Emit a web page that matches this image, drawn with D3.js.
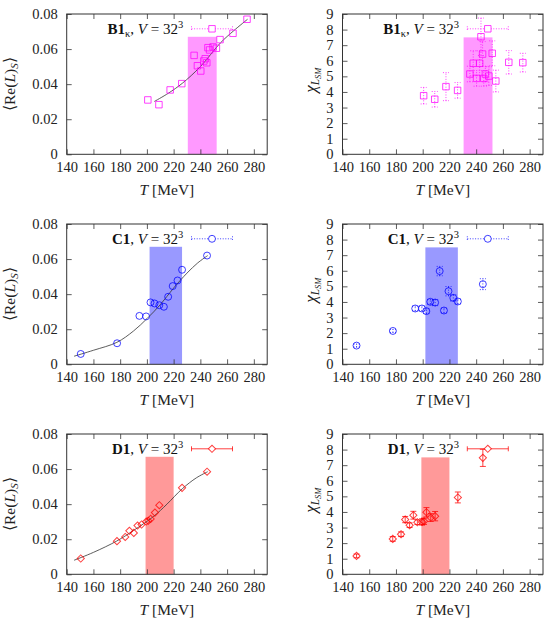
<!DOCTYPE html>
<html>
<head>
<meta charset="utf-8">
<script src="https://d3js.org/d3.v7.min.js"></script>
<style>
  body { margin: 0; background: #fff; }
</style>
</head>
<body>
<div id="chart"></div>
<script>
// ---- data ----
var xTicks = [140, 160, 180, 200, 220, 240, 260, 280];
var reTicks = [0, 0.02, 0.04, 0.06, 0.08];
var chiTicks = [0, 1, 2, 3, 4, 5, 6, 7, 8, 9];

// B1 kappa
var b1T   = [200.7, 209, 217.4, 226.1, 235.3, 237.8, 240.3, 242.6, 243.6, 244.8, 245.7, 246.9, 249.5, 252, 254.7, 264.4, 274.9];
var b1Re  = [0.031, 0.0283, 0.0367, 0.0403, 0.0564, 0.0505, 0.0475, 0.0532, 0.0545, 0.0522, 0.0608, 0.0595, 0.0612, 0.0605, 0.0654, 0.069, 0.077];
var b1Chi = [3.76, 3.53, 4.34, 4.1, 5.15, 5.84, 4.87, 5.84, 7.54, 6.43, 4.87, 5.15, 5.02, 6.48, 4.7, 5.9, 5.88];
var b1ChiErr = [0.53, 0.5, 0.9, 0.5, 0.5, 0.8, 0.5, 0.8, 1.2, 0.8, 0.5, 0.5, 0.6, 0.8, 0.7, 0.75, 0.6];
var b1FitT  = [205.5, 216, 226.5, 240, 255, 265, 275.3];
var b1FitRe = [0.0301, 0.0348, 0.0405, 0.050, 0.0635, 0.0705, 0.077];
var b1Band = [230.6, 252.2];

// C1
var c1T   = [150.5, 177.7, 194.4, 199.4, 202.7, 205.7, 209.3, 212.7, 215.9, 219.3, 222.9, 226.3, 245];
var c1Re  = [0.0059, 0.012, 0.0276, 0.0273, 0.0353, 0.0347, 0.0337, 0.0328, 0.0385, 0.0446, 0.0478, 0.0539, 0.062];
var c1Chi = [1.2, 2.14, 3.58, 3.58, 3.41, 4.01, 3.96, 5.98, 3.45, 4.69, 4.26, 4.03, 5.14];
var c1ChiErr = [0.1, 0.1, 0.15, 0.15, 0.15, 0.15, 0.2, 0.3, 0.15, 0.3, 0.2, 0.15, 0.35];
var c1FitT  = [145.5, 160, 177.5, 190, 200, 210, 220, 230, 238, 245.5];
var c1FitRe = [0.0046, 0.008, 0.0125, 0.019, 0.026, 0.034, 0.0435, 0.052, 0.0578, 0.062];
var c1Band = [202, 226.3];

// D1
var d1T   = [150.5, 177.6, 183.8, 186.9, 190.2, 193, 196, 199.5, 201, 202.8, 206, 209.3, 226.3, 245];
var d1Re  = [0.009, 0.0189, 0.0213, 0.0248, 0.0236, 0.0278, 0.0284, 0.0301, 0.0305, 0.0316, 0.0352, 0.0394, 0.0493, 0.0585];
var d1Chi = [1.18, 2.27, 2.57, 3.51, 3.15, 3.79, 3.34, 3.36, 3.4, 3.98, 3.64, 3.73, 4.93, 7.47];
var d1ChiErr = [0.12, 0.15, 0.15, 0.2, 0.15, 0.25, 0.15, 0.2, 0.2, 0.3, 0.25, 0.3, 0.35, 0.55];
var d1FitT  = [145.5, 160, 177.5, 190, 205, 215, 226.5, 237, 245.5];
var d1FitRe = [0.008, 0.0125, 0.019, 0.025, 0.033, 0.040, 0.0488, 0.055, 0.0585];
var d1Band = [199, 220];

var svgWidth = 551;
var svgHeight = 630;
var serif = '"Liberation Serif"';

var svg = d3.select("#chart")
  .append("svg")
  .attr("width", svgWidth)
  .attr("height", svgHeight);

var plotW = 200.5;
var plotH = 140.3;
var colX = [66.7, 342.5];
var rowY = [14, 224, 434];

var sets = [
  { name: "B1", sub: "\u03ba", color: "#ff00ff", shape: "square", dash: "1,1.6",
    T: b1T, re: b1Re, chi: b1Chi, chiErr: b1ChiErr, fitT: b1FitT, fitRe: b1FitRe, band: b1Band },
  { name: "C1", sub: null, color: "#0000ff", shape: "circle", dash: "1,1.6",
    T: c1T, re: c1Re, chi: c1Chi, chiErr: c1ChiErr, fitT: c1FitT, fitRe: c1FitRe, band: c1Band },
  { name: "D1", sub: null, color: "#ff0000", shape: "diamond", dash: null,
    T: d1T, re: d1Re, chi: d1Chi, chiErr: d1ChiErr, fitT: d1FitT, fitRe: d1FitRe, band: d1Band }
];

function marker(shape) {
  if (shape === "square") return d3.symbol().type(d3.symbolSquare).size(42)();
  if (shape === "circle") return d3.symbol().type(d3.symbolCircle).size(38)();
  return d3.symbol().type(d3.symbolSquare).size(26)();
}

function drawPanel(set, row, col) {
  var x0 = colX[col], y0 = rowY[row];
  var isChi = col === 1;
  var g = svg.append("g").attr("transform", `translate(${x0}, ${y0})`);

  var xScale = d3.scaleLinear().domain([140, 290]).range([0, plotW]);
  var yScale = d3.scaleLinear()
    .domain(isChi ? [0, 9] : [0, 0.08])
    .range([plotH, 0]);
  var yTicks = isChi ? chiTicks : reTicks;
  var bandTop = isChi ? 7.5 : 0.067;

  // transition band
  g.append("rect")
    .attr("x", xScale(set.band[0]))
    .attr("y", yScale(bandTop))
    .attr("width", xScale(set.band[1]) - xScale(set.band[0]))
    .attr("height", yScale(0) - yScale(bandTop))
    .attr("fill", set.color)
    .attr("fill-opacity", 0.4);

  // axes with inward ticks
  var bottomAxis = d3.axisBottom(xScale).tickValues(xTicks).tickSize(-5).tickSizeOuter(0).tickPadding(7);
  var topAxis = d3.axisTop(xScale).tickValues(xTicks).tickSize(-5).tickSizeOuter(0).tickFormat("");
  var leftAxis = d3.axisLeft(yScale).tickValues(yTicks).tickSize(-5).tickSizeOuter(0).tickPadding(9)
    .tickFormat(d => isChi ? d : (d === 0 ? "0" : d.toFixed(2)));
  var rightAxis = d3.axisRight(yScale).tickValues(yTicks).tickSize(-5).tickSizeOuter(0).tickFormat("");

  var axes = [
    g.append("g").attr("transform", `translate(0, ${plotH})`).call(bottomAxis),
    g.append("g").call(topAxis),
    g.append("g").call(leftAxis),
    g.append("g").attr("transform", `translate(${plotW}, 0)`).call(rightAxis)
  ];
  axes.forEach(a => {
    a.select(".domain").remove();
    a.attr("font-family", null).attr("font-size", 14.5);
    a.selectAll("line").attr("stroke", "#333").attr("stroke-width", 0.8);
    a.selectAll("text").attr("fill", "#222");
  });

  g.append("rect")
    .attr("width", plotW).attr("height", plotH)
    .attr("fill", "none").attr("stroke", "#333").attr("stroke-width", 1);

  var vals = isChi ? set.chi : set.re;
  var pts = set.T.map((t, i) => ({ t: t, v: vals[i], e: isChi ? set.chiErr[i] : 0 }));

  // fit curve
  if (!isChi) {
    var fit = set.fitT.map((t, i) => [t, set.fitRe[i]]);
    g.append("path")
      .datum(fit)
      .attr("d", d3.line().x(d => xScale(d[0])).y(d => yScale(d[1])).curve(d3.curveCatmullRom))
      .attr("fill", "none")
      .attr("stroke", "#333")
      .attr("stroke-width", 0.8);
  }

  // error bars
  if (isChi) {
    var eg = g.append("g")
      .attr("stroke", set.color).attr("stroke-width", 1).attr("stroke-opacity", 0.75)
      .attr("stroke-dasharray", set.dash);
    pts.forEach(p => {
      var xx = xScale(p.t), ya = yScale(p.v - p.e), yb = yScale(p.v + p.e);
      eg.append("line").attr("x1", xx).attr("x2", xx).attr("y1", ya).attr("y2", yb);
      eg.append("line").attr("x1", xx - 3).attr("x2", xx + 3).attr("y1", ya).attr("y2", ya);
      eg.append("line").attr("x1", xx - 3).attr("x2", xx + 3).attr("y1", yb).attr("y2", yb);
    });
  }

  // points
  g.append("g").selectAll("path")
    .data(pts)
    .enter()
    .append("path")
    .attr("d", marker(set.shape))
    .attr("transform", d => `translate(${xScale(d.t)}, ${yScale(d.v)})` + (set.shape === "diamond" ? " rotate(45)" : ""))
    .attr("fill", "none")
    .attr("stroke", set.color)
    .attr("stroke-opacity", 0.75)
    .attr("stroke-width", 1);

  // key
  var ky = 14.8;
  var key = g.append("text")
    .attr("x", 116.5)
    .attr("y", ky + 5)
    .attr("text-anchor", "end")
    .attr("font-size", 15)
    .attr("fill", "#111");
  key.append("tspan").attr("font-weight", "bold").text(set.name);
  if (set.sub) {
    key.append("tspan").attr("font-size", 10.5).attr("dy", 3).text(set.sub);
    key.append("tspan").attr("dy", -3).text(", ");
  } else {
    key.append("tspan").text(", ");
  }
  key.append("tspan").attr("font-style", "italic").text("V");
  key.append("tspan").text(" = 32");
  key.append("tspan").attr("font-size", 10.5).attr("dy", -6).text("3");

  var kx = 145.3;
  var kg = g.append("g")
    .attr("stroke", set.color).attr("stroke-width", 1).attr("stroke-opacity", 0.75)
    .attr("stroke-dasharray", set.dash);
  kg.append("line").attr("x1", kx - 20.5).attr("x2", kx + 20.5).attr("y1", ky).attr("y2", ky);
  kg.append("line").attr("x1", kx - 20.5).attr("x2", kx - 20.5).attr("y1", ky - 2.5).attr("y2", ky + 2.5);
  kg.append("line").attr("x1", kx + 20.5).attr("x2", kx + 20.5).attr("y1", ky - 2.5).attr("y2", ky + 2.5);
  g.append("path")
    .attr("d", marker(set.shape))
    .attr("transform", `translate(${kx}, ${ky})` + (set.shape === "diamond" ? " rotate(45)" : ""))
    .attr("fill", "#fff")
    .attr("stroke", set.color)
    .attr("stroke-opacity", 0.75)
    .attr("stroke-width", 1);

  // x label
  var xl = g.append("text")
    .attr("x", plotW / 2)
    .attr("y", plotH + 41)
    .attr("text-anchor", "middle")
    .attr("font-size", 15.5)
    .attr("fill", "#222");
  xl.append("tspan").attr("font-style", "italic").text("T");
  xl.append("tspan").text(" [MeV]");

  // y label
  var yl = g.append("text")
    .attr("transform", isChi ? `translate(-27, ${plotH / 2 - 4}) rotate(-90)` : `translate(-52, ${plotH / 2}) rotate(-90)`)
    .attr("text-anchor", "middle")
    .attr("font-size", 15.5)
    .attr("fill", "#222");
  if (isChi) {
    yl.append("tspan").attr("font-style", "italic").attr("font-size", 17).text("\u03c7");
    yl.append("tspan").attr("font-style", "italic").attr("font-size", 11.5).attr("dy", 3).text("L");
    yl.append("tspan").attr("font-style", "italic").attr("font-size", 8.5).attr("dy", 2).text("SM");
  } else {
    yl.append("tspan").text("\u27e8Re(");
    yl.append("tspan").attr("font-style", "italic").text("L");
    yl.append("tspan").text(")");
    yl.append("tspan").attr("font-style", "italic").attr("font-size", 11).attr("dy", 3).text("S");
    yl.append("tspan").attr("dy", -3).text("\u27e9");
  }
}

sets.forEach((set, row) => {
  drawPanel(set, row, 0);
  drawPanel(set, row, 1);
});

// serif face on every text, set on the element itself
svg.selectAll("text").style("font-family", serif);
</script>
</body>
</html>
